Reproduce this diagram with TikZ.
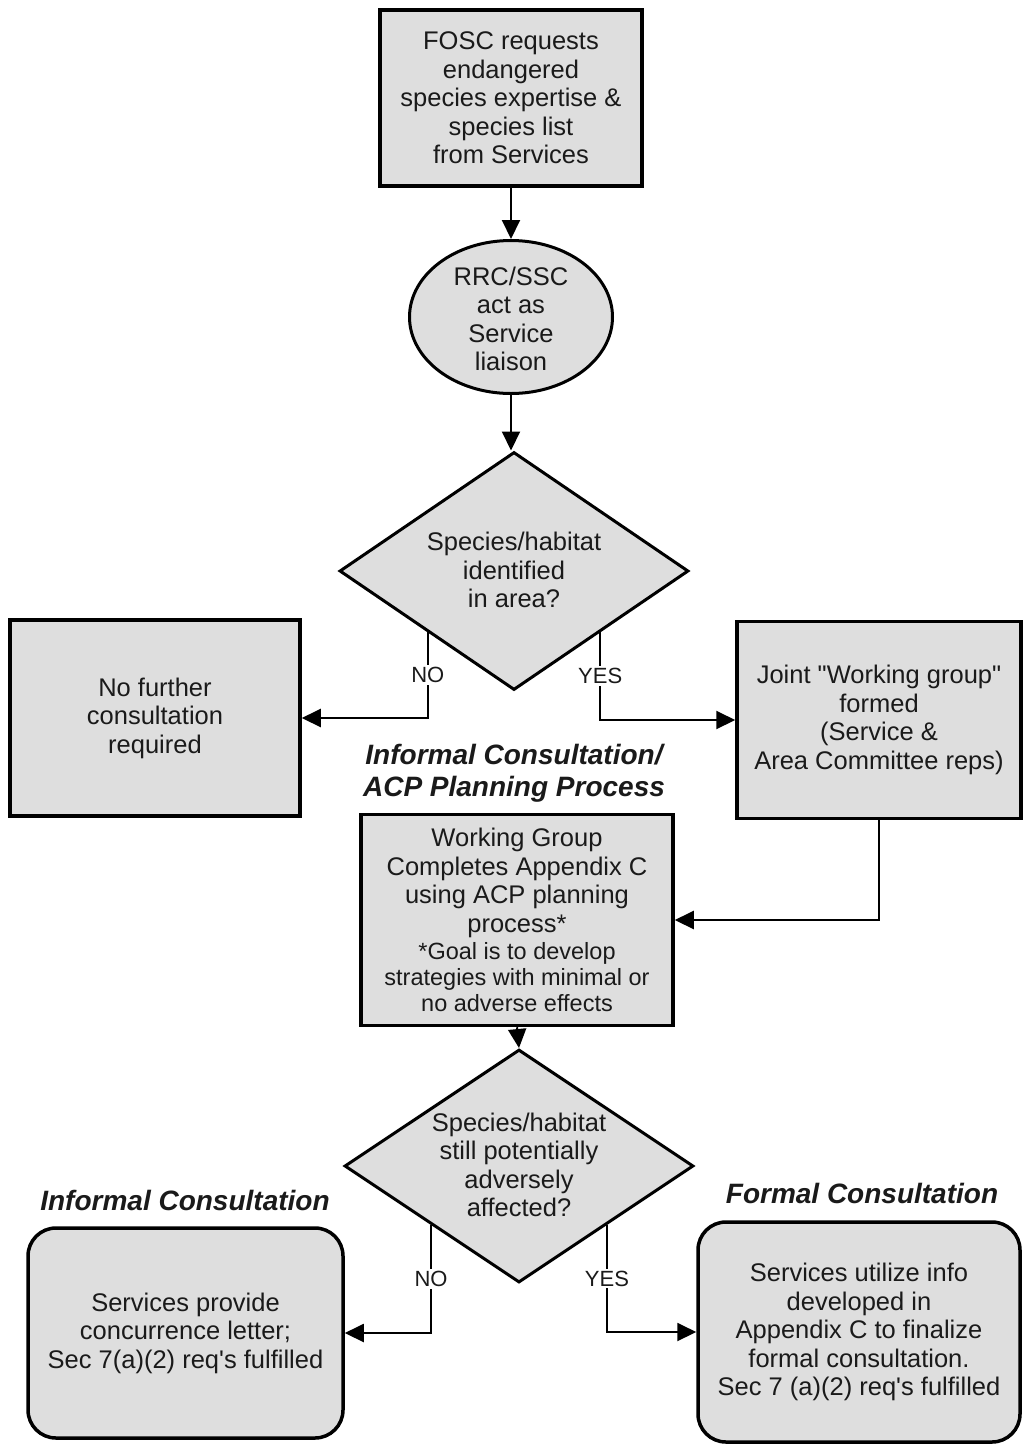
\documentclass[tikz,border=0pt]{standalone}
\usepackage{fontspec}
\setmainfont{Liberation Sans}[Ligatures=TeXOff]
\usetikzlibrary{shapes.geometric,arrows.meta,calc}
\definecolor{boxfill}{HTML}{DEDEDE}
\definecolor{ink}{HTML}{1A1A1A}
\newcommand\goalfont{\fontsize{23.5}{26}\selectfont}
\tikzset{
 body/.style={font=\fontsize{25.5}{28.5}\selectfont, text=ink, align=center, inner sep=0pt},
 procbox/.style={draw=black, line width=3.5pt, fill=boxfill, body},
 endbox/.style={procbox, rounded corners=28pt},
 decision/.style={diamond, draw=black, line width=3pt, fill=boxfill, inner sep=0pt},
 oval/.style={ellipse, draw=black, line width=3pt, fill=boxfill, inner sep=0pt},
 flow/.style={draw=black, line width=2pt, -{Triangle[length=19pt,width=18pt]}},
 branch/.style={font=\fontsize{22}{24}\selectfont, fill=white, inner sep=2pt, text=ink},
 heading/.style={font=\fontsize{28}{32}\selectfont\bfseries\itshape, text=ink, align=center, inner sep=0pt},
}
\begin{document}
\begin{tikzpicture}[x=1pt,y=-1pt]
\path[fill=white, use as bounding box] (0,0) rectangle (1023,1444);

% nodes
\node[procbox, minimum width=262pt, minimum height=176pt] (fosc) at (511,98)
  {FOSC requests\\endangered\\species expertise \&\\species list\\from Services};
\node[oval, minimum width=203pt, minimum height=153pt] (rrc) at (511,317) {};
\node[body] (rrct) at (511,319) {RRC/SSC\\act as\\Service\\liaison};

\node[decision, minimum width=349pt, minimum height=238pt] (d1) at (514,571) {};
\node[body] (d1t) at (514,570) {Species/habitat\\identified\\in area?};

\node[procbox, minimum width=290pt, minimum height=196pt] (nofur) at (155,718)
  {No further\\consultation\\required};
\node[procbox, minimum width=284pt, minimum height=197pt] (joint) at (879,720)
  {Joint "Working group"\\formed\\(Service \&\\Area Committee reps)};

\node[heading] (h1) at (514,773) {Informal Consultation/\\ACP Planning Process};

\node[procbox, minimum width=312pt, minimum height=211pt] (mid) at (517,920)
  {Working Group\\Completes Appendix C\\using ACP planning\\process*\\[-1pt]%
   \goalfont *Goal is to develop\\[-2.5pt]\goalfont strategies with minimal or\\[-2.5pt]\goalfont no adverse effects};

\node[decision, minimum width=349pt, minimum height=233pt] (d2) at (519,1166) {};
\node[body] (d2t) at (519,1165) {Species/habitat\\still potentially\\adversely\\affected?};

\node[heading] (h2) at (185,1200) {Informal Consultation};
\node[heading] (h3) at (862,1193) {Formal Consultation};

\node[endbox, minimum width=315pt, minimum height=210pt] (inf) at (185.5,1333)
  {Services provide\\concurrence letter;\\Sec 7(a)(2) req's fulfilled};
\node[endbox, minimum width=322pt, minimum height=220pt] (form) at (859,1332)
  {Services utilize info\\developed in\\Appendix C to finalize\\formal consultation.\\Sec 7 (a)(2) req's fulfilled};

% connectors
\draw[flow] (fosc.south) -- (rrc.north);
\draw[flow] (rrc.south) -- (rrc.south |- d1.north);

\coordinate (n1) at ($(d1.south)!0.49!(d1.west)$);
\coordinate (y1) at ($(d1.south)!0.49!(d1.east)$);
\draw[flow] (n1) |- (nofur.east);
\draw[flow] (y1) |- (joint.west);
\path (n1) -- (n1 |- nofur.east) node[branch, midway] (no1) {NO};
\path (y1) -- (y1 |- joint.west) node[branch, midway] (yes1) {YES};

\draw[flow] (joint.south) |- (mid.east);
\draw[flow] (mid.south) -- (d2.north);

\coordinate (n2) at ($(d2.south)!0.5!(d2.west)$);
\coordinate (y2) at ($(d2.south)!0.5!(d2.east)$);
\draw[flow] (n2) |- (inf.east);
\draw[flow] (y2) |- (form.west);
\path (n2) -- (n2 |- inf.east) node[branch, midway] (no2) {NO};
\path (y2) -- (y2 |- form.west) node[branch, midway] (yes2) {YES};
\end{tikzpicture}
\end{document}
